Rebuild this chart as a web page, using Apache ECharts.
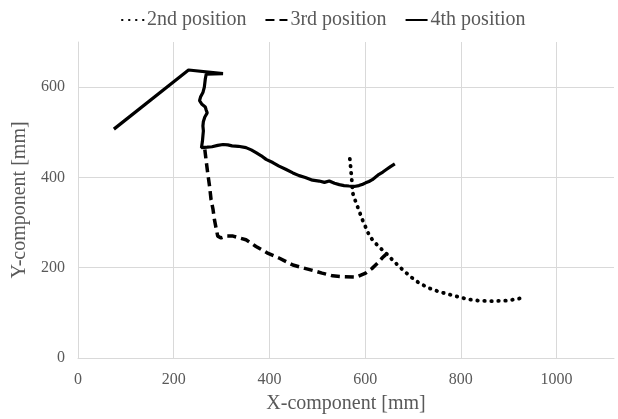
<!DOCTYPE html>
<html>
<head>
<meta charset="utf-8">
<script src="https://cdn.jsdelivr.net/npm/echarts@6/dist/echarts.min.js"></script>
<style>
  html, body { margin: 0; padding: 0; background: #fff; }
  #main { width: 618px; height: 419px; }
</style>
</head>
<body>
<div id="main"></div>
<script>
// x/y pairs in mm
var pos2 = [
  [568,441],[570,420],[572,395],[574,366],[577,355],[580,347],[587,327],[594,307],
  [601,290],[608,273],[615,262],[629,246],[643,233],[660,214],[678,196],[695,180],
  [713,166],[733,155],[754,147],[775,141],[796,135],[815,130],[837,127],[865,126],
  [896,127],[914,130],[928,133]
]
var pos3 = [
  [265,462],[268,435],[271,410],[275,380],[278,351],[282,330],[285,307],[289,285],
  [292,270],[299,266],[310,270],[324,270],[337,266],[351,262],[372,247],[395,233],
  [421,221],[449,206],[469,200],[490,194],[510,188],[532,182],[555,180],[581,179],
  [601,188],[614,198],[626,210],[636,222],[643,229]
]
var pos4 = [
  [75,507],[231,638],[303,630],[268,629],[266,618],[264,600],[261,588],[256,578],
  [254,570],[259,562],[266,556],[268,549],[270,543],[265,534],[262,524],[261,514],
  [262,503],[261,492],[260,480],[258,466],[270,467],[280,468],[292,471],[303,473],
  [313,472],[322,470],[335,469],[351,466],[362,461],[372,455],[383,448],[393,440],
  [407,433],[420,425],[434,418],[449,410],[462,404],[475,400],[490,394],[504,392],
  [515,389],[525,392],[536,387],[546,384],[556,382],[566,381],[577,380],[587,382],
  [595,385],[601,388],[608,391],[615,395],[622,401],[629,407],[637,412],[645,418],
  [653,424],[662,430]
]
var seriesNames = ['2nd position', '3rd position', '4th position']

var font = "'Liberation Serif', 'Times New Roman', serif"
var txtColor = '#595959'
var gridColor = '#d9d9d9'

var chart = echarts.init(document.getElementById('main'))

var option = {
  animation: false,
  textStyle: { fontFamily: font },
  legend: {
    data: seriesNames,
    top: 5,
    left: 116,
    itemWidth: 22,
    itemHeight: 10,
    itemGap: 18,
    itemStyle: { opacity: 0 },
    textStyle: { fontFamily: font, fontSize: 20, color: txtColor, padding: [0, 0, 0, -2] }
  },
  grid: { left: 78, right: 4, top: 42, bottom: 59 },
  xAxis: {
    type: 'value',
    min: 0,
    max: 1120,
    interval: 200,
    name: 'X-component [mm]',
    nameLocation: 'middle',
    nameGap: 36,
    nameTextStyle: { fontFamily: font, fontSize: 20, color: txtColor },
    axisLine: { show: true, lineStyle: { color: gridColor } },
    axisTick: { show: false },
    axisLabel: {
      fontFamily: font, fontSize: 16, color: txtColor, margin: 14, showMaxLabel: false,
      formatter: function (v) { return String(v) }
    },
    splitLine: { show: true, showMaxLine: false, lineStyle: { color: gridColor, width: 1 } }
  },
  yAxis: {
    type: 'value',
    min: 0,
    max: 700,
    interval: 200,
    name: 'Y-component [mm]',
    nameLocation: 'middle',
    nameGap: 44,
    nameTextStyle: { fontFamily: font, fontSize: 20, color: txtColor },
    axisLine: { show: true, lineStyle: { color: gridColor } },
    axisTick: { show: false },
    axisLabel: { fontFamily: font, fontSize: 16, color: txtColor, margin: 13, showMaxLabel: false },
    splitLine: { show: true, showMaxLine: false, lineStyle: { color: gridColor, width: 1 } }
  },
  series: [
    {
      name: seriesNames[0],
      type: 'line',
      data: pos2,
      symbol: 'none',
      lineStyle: { color: '#000', width: 3.8, type: [0.5, 6.5], cap: 'round' },
      itemStyle: { color: '#000' }
    },
    {
      name: seriesNames[1],
      type: 'line',
      data: pos3,
      symbol: 'none',
      lineStyle: { color: '#000', width: 3.5, type: [9, 5] },
      itemStyle: { color: '#000' }
    },
    {
      name: seriesNames[2],
      type: 'line',
      data: pos4,
      symbol: 'none',
      lineStyle: { color: '#000', width: 3.2 },
      itemStyle: { color: '#000' }
    }
  ]
}

chart.setOption(option)
</script>
</body>
</html>
